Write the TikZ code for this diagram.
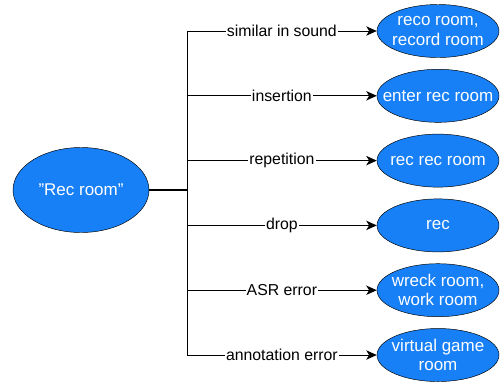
\documentclass[tikz,border=0pt]{standalone}
\usepackage{fontspec}
\setmainfont{Liberation Sans}
\usetikzlibrary{shapes,arrows.meta,positioning}
\definecolor{bubble}{RGB}{24,128,246}
\tikzstyle{phrase} = [ellipse, draw, fill=bubble, text=white, align=center,
    inner sep=-20pt, minimum width=3.66cm, minimum height=1.59cm,
    font=\fontsize{14.5}{16.5}\selectfont]
\tikzstyle{variant} = [ellipse, draw, fill=bubble, text=white, align=center,
    inner sep=-20pt, minimum width=4.08cm, minimum height=2.55cm,
    font=\fontsize{14.5}{16.5}\selectfont]
\tikzstyle{line} = [draw, line width=0.8pt, -{Stealth[length=9pt,width=8pt,inset=2.5pt]}]
\tikzstyle{lbl} = [fill=white, inner sep=1pt, font=\fontsize{13.5}{15}\selectfont]

\begin{document}
\begin{tikzpicture}[x=0.03cm, y=-0.03cm, node distance=1.944cm]
    \useasboundingbox (0,0) rectangle (500,383);
    \node [variant] (src) at (81,190) {"Rec room"};
    \coordinate (trunk) at (187,190);

    \node [phrase] (t1) at (438,31) {reco room,\\record room};
    \node [phrase, below of=t1] (t2) {enter rec room};
    \node [phrase, below of=t2] (t3) {rec rec room};
    \node [phrase, below of=t3] (t4) {rec};
    \node [phrase, below of=t4] (t5) {wreck room,\\work room};
    \node [phrase, below of=t5] (t6) {virtual game\\room};

    % trunk
    \draw [line width=1pt] (src.east) -- (trunk);
    \draw [line width=0.8pt] (t1 -| trunk) -- (t6 -| trunk);

    % branches
    \path [line] (t1 -| trunk) -- node [lbl] {similar in sound} (t1.west);
    \path [line] (t2 -| trunk) -- node [lbl] {insertion} (t2.west);
    \path [line] (t3 -| trunk) -- node [lbl] {repetition} (t3.west);
    \path [line] (t4 -| trunk) -- node [lbl] {drop} (t4.west);
    \path [line] (t5 -| trunk) -- node [lbl] {ASR error} (t5.west);
    \path [line] (t6 -| trunk) -- node [lbl] {annotation error} (t6.west);
\end{tikzpicture}
\end{document}
